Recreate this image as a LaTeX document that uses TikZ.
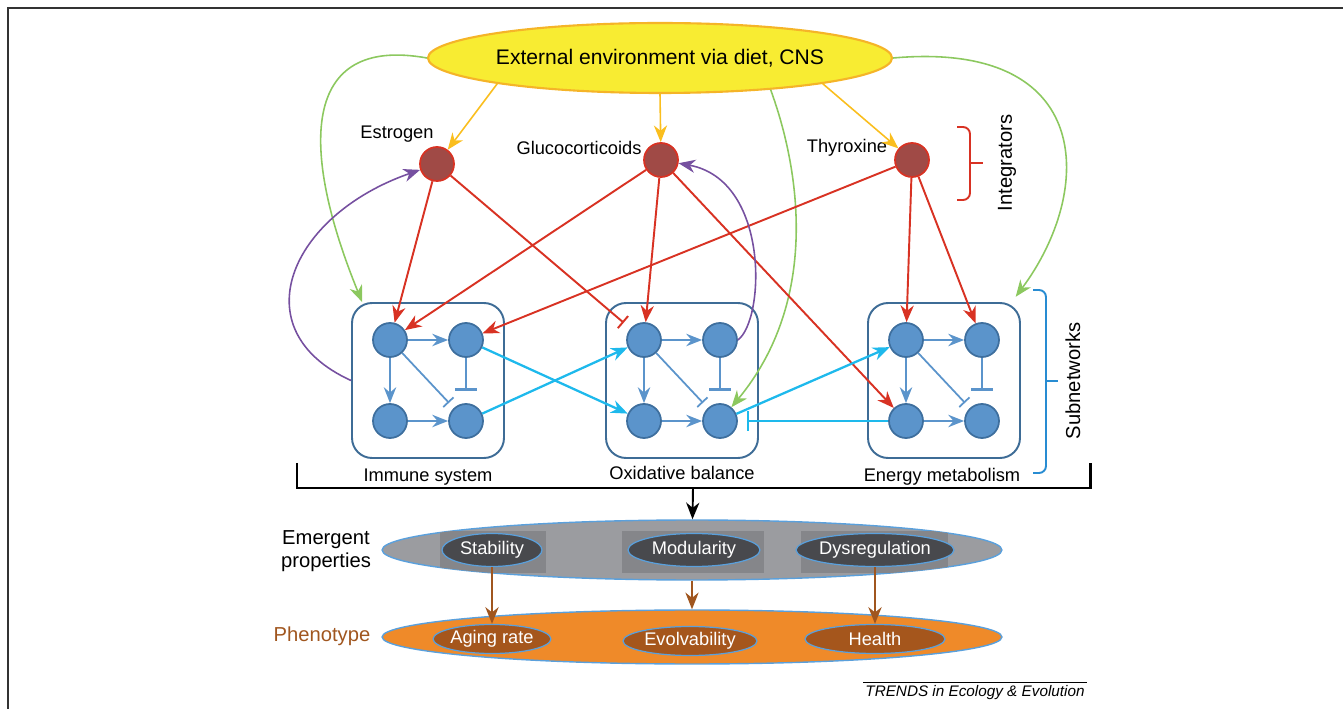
\documentclass[tikz,border=0pt]{standalone}
\usepackage{fontspec}
\setmainfont{Liberation Sans}
\usetikzlibrary{arrows.meta,shapes.geometric}
\def\boxwidth{3.04cm}
\def\boxheight{3.1cm}

\definecolor{envyellow}{RGB}{248,236,50}
\definecolor{envborder}{RGB}{245,180,40}
\definecolor{envarrow}{RGB}{250,190,30}
\definecolor{cnsgreen}{RGB}{140,200,95}
\definecolor{feedpurple}{RGB}{118,80,160}
\definecolor{intred}{RGB}{216,50,35}
\definecolor{intfill}{RGB}{160,74,70}
\definecolor{genefill}{RGB}{91,148,203}
\definecolor{geneborder}{RGB}{62,111,158}
\definecolor{boxblue}{RGB}{62,108,150}
\definecolor{linkcyan}{RGB}{30,185,236}
\definecolor{bracketblue}{RGB}{40,140,210}
\definecolor{emgray}{RGB}{155,156,160}
\definecolor{emshade}{RGB}{133,134,138}
\definecolor{emdark}{RGB}{72,73,77}
\definecolor{edgeblue}{RGB}{90,160,220}
\definecolor{phorange}{RGB}{239,138,41}
\definecolor{phbrown}{RGB}{165,86,28}
\definecolor{arrowbrown}{RGB}{160,86,31}

\begin{document}
\begin{tikzpicture}[x=0.02cm,y=-0.02cm,>={Stealth[length=9.5pt,width=7.5pt,inset=3pt]},
        font=\fontsize{10.4}{12}\selectfont]
        \tikzstyle{integrator}=[circle,fill=intfill,draw=intred,line width=1pt,minimum size=0.68cm,inner sep=0pt]
        \tikzstyle{gene}=[circle,fill=genefill,draw=geneborder,line width=1pt,minimum size=0.68cm,inner sep=0pt]
        \tikzstyle{subnet}=[rectangle,rounded corners=0.4cm,draw=boxblue,line width=1.1pt,minimum width=\boxwidth,minimum height=\boxheight]
        \tikzstyle{inner act}=[-{Stealth[length=9pt,width=7pt,inset=3pt]},draw=genefill,line width=1.6pt]
        \tikzstyle{inner inh}=[-{Bar[width=12pt,line width=1.6pt]},draw=genefill,line width=1.6pt,shorten >=7pt]
        \tikzstyle{env arrow}=[->,draw=envarrow,line width=0.9pt]
        \tikzstyle{green line}=[->,draw=cnsgreen,line width=0.9pt]
        \tikzstyle{purple line}=[->,draw=feedpurple,line width=0.9pt]
        \tikzstyle{red act}=[->,draw=intred,line width=1.1pt]
        \tikzstyle{red inh}=[-{Bar[width=9pt,line width=1.1pt]},draw=intred,line width=1.1pt,shorten >=5pt]
        \tikzstyle{cyan act}=[->,draw=linkcyan,line width=1.3pt]
        \tikzstyle{cyan inh}=[-{Bar[width=11pt,line width=1.6pt]},draw=linkcyan,line width=1.6pt,shorten >=5pt]
        \tikzstyle{prop}=[ellipse,fill=emdark,draw=edgeblue,line width=0.7pt,minimum height=0.66cm,inner sep=0pt,text=white]
        \tikzstyle{pheno}=[ellipse,fill=phbrown,draw=edgeblue,line width=0.7pt,minimum height=0.58cm,inner sep=0pt,text=white]
        \tikzstyle{brown arrow}=[->,draw=arrowbrown,line width=1.3pt]
        \tikzstyle{side text}=[font=\fontsize{11.5}{13}\selectfont]

        \useasboundingbox (0,0) rectangle (1343,709);
        \draw[line width=1pt,black!80] (8,709) -- (8,8) -- (1343,8);

        % Draw the environment and the integrator nodes
        \node[ellipse,fill=envyellow,draw=envborder,line width=1.2pt,minimum width=9.28cm,minimum height=1.4cm,
              inner sep=0pt,font=\fontsize{12}{14}\selectfont] (env) at (660,58) {External environment via diet, CNS};
        \node[integrator] (estrogen) at (437,164) {};
        \node[integrator] (gluco) at (661,160) {};
        \node[integrator] (thyro) at (912,160) {};
        \node (estrogen-lbl) at (397,134) {Estrogen};
        \node (gluco-lbl) at (579,148) {Glucocorticoids};
        \node (thyro-lbl) at (847,148) {Thyroxine};

        % Draw the three subnetworks
        \foreach \sub/\x in {imm/390,oxi/644,ene/906}
        {
            \node[subnet] (\sub-box) at (\x+38,380.5) {};
            \node[gene] (\sub-1) at (\x,340) {};
            \node[gene] (\sub-2) at (\x+76,340) {};
            \node[gene] (\sub-3) at (\x,421) {};
            \node[gene] (\sub-4) at (\x+76,421) {};
            \draw[inner act] (\sub-1) -- (\sub-2);
            \draw[inner act] (\sub-1) -- (\sub-3);
            \draw[inner act] (\sub-3) -- (\sub-4);
            \draw[inner inh] (\sub-2) -- (\sub-4);
            \draw[inner inh,line width=1pt,shorten >=4pt,-{Bar[width=8pt,line width=1pt]}] (\sub-1) -- (\sub-4);
        }
        \node (imm-lbl) at (428,477) {Immune system};
        \node (oxi-lbl) at (682,473) {Oxidative balance};
        \node (ene-lbl) at (942,477) {Energy metabolism};

        % Environment to integrators and subnetworks
        \draw[env arrow] (env.-171) -- (estrogen);
        \draw[env arrow] (env.south) -- (gluco);
        \draw[env arrow] (env.-9) -- (thyro);
        \draw[green line] (env.west) .. controls (300,35) and (300,150) .. (imm-box.130);
        \draw[green line] (env.east) .. controls (1095,40) and (1095,190) .. ([shift={(-3pt,3pt)}]ene-box.north east);
        \draw[green line] (env.-16) .. controls (800,170) and (820,300) .. (oxi-4);

        % Integrators act on the subnetworks
        \draw[red act] (estrogen) -- (imm-1);
        \draw[red inh] (estrogen) -- (oxi-1);
        \draw[red act] (gluco) -- (imm-1);
        \draw[red act] (gluco) -- (oxi-1);
        \draw[red act] (gluco) -- (ene-3);
        \draw[red act] (thyro) -- (imm-2);
        \draw[red act] (thyro) -- (ene-1);
        \draw[red act] (thyro) -- (ene-2);

        % Feedback from the subnetworks
        \draw[purple line] (imm-box.west) .. controls (240,330) and (290,215) .. (estrogen);
        \draw[purple line] (oxi-2.east) .. controls (765,320) and (770,180) .. (gluco);

        % Links between the subnetworks
        \draw[cyan act] (imm-2) -- (oxi-3);
        \draw[cyan act] (imm-4) -- (oxi-1);
        \draw[cyan act] (oxi-4) -- (ene-1);
        \draw[cyan inh] (ene-3) -- (oxi-4);

        % Brackets
        \draw[intred,line width=1.1pt,rounded corners=4pt] (957,127) -- (970,127) -- (970,200) -- (957,200);
        \draw[intred,line width=1.1pt] (970,163) -- (983,163);
        \node[side text,rotate=90] (integrators) at (1007,163) {Integrators};
        \draw[bracketblue,line width=1.1pt,rounded corners=4pt] (1033,290) -- (1046,290) -- (1046,473) -- (1033,473);
        \draw[bracketblue,line width=1.1pt] (1046,381) -- (1058,381);
        \node[side text,rotate=90] (subnetworks) at (1073,381) {Subnetworks};
        \draw[line width=1.7pt] (297,463) |- (1090,488) -- (1090,463);
        \coordinate (merge) at (693,488);

        % Emergent properties
        \node[ellipse,fill=emgray,draw=edgeblue,line width=0.8pt,minimum width=12.4cm,minimum height=1.2cm] (emergent) at (692,550) {};
        \draw[->,line width=1.1pt] (merge) -- (emergent);
        \begin{scope}
            \clip (692,550) ellipse [x radius=6.2cm,y radius=0.6cm];
            \foreach \xa/\xb in {440/546,622/764,801/948}
                \fill[emshade] (\xa,531) rectangle (\xb,573);
        \end{scope}
        \node[prop,minimum width=2cm] (stability) at (492,550) {Stability};
        \node[prop,minimum width=2.64cm] (modularity) at (694,550) {Modularity};
        \node[prop,minimum width=2.8cm] (dysreg) at (875,550) {Dysregulation};
        \node[side text,align=center] (emergent-lbl) at (326,551) {Emergent\\properties};

        % Phenotype
        \node[ellipse,fill=phorange,draw=edgeblue,line width=0.8pt,minimum width=12.4cm,minimum height=1.08cm] (phenotype) at (692,637) {};
        \node[pheno,minimum width=2.24cm] (aging) at (492,639) {Aging rate};
        \node[pheno,minimum width=2.68cm] (evolv) at (690,641) {Evolvability};
        \node[pheno,minimum width=2.8cm] (health) at (875,639) {Health};
        \node[side text,text=arrowbrown] (pheno-lbl) at (322,636) {Phenotype};
        \draw[brown arrow] (stability) -- (aging);
        \draw[brown arrow] (emergent.south) -- (phenotype.north);
        \draw[brown arrow] (dysreg) -- (health);

        \node[font=\fontsize{8.7}{10}\selectfont\itshape,inner sep=1pt] (trends) at (975,693) {TRENDS in Ecology \& Evolution};
        \draw[line width=0.5pt] ([yshift=1pt]trends.north west) -- ([yshift=1pt]trends.north east);
\end{tikzpicture}
\end{document}
